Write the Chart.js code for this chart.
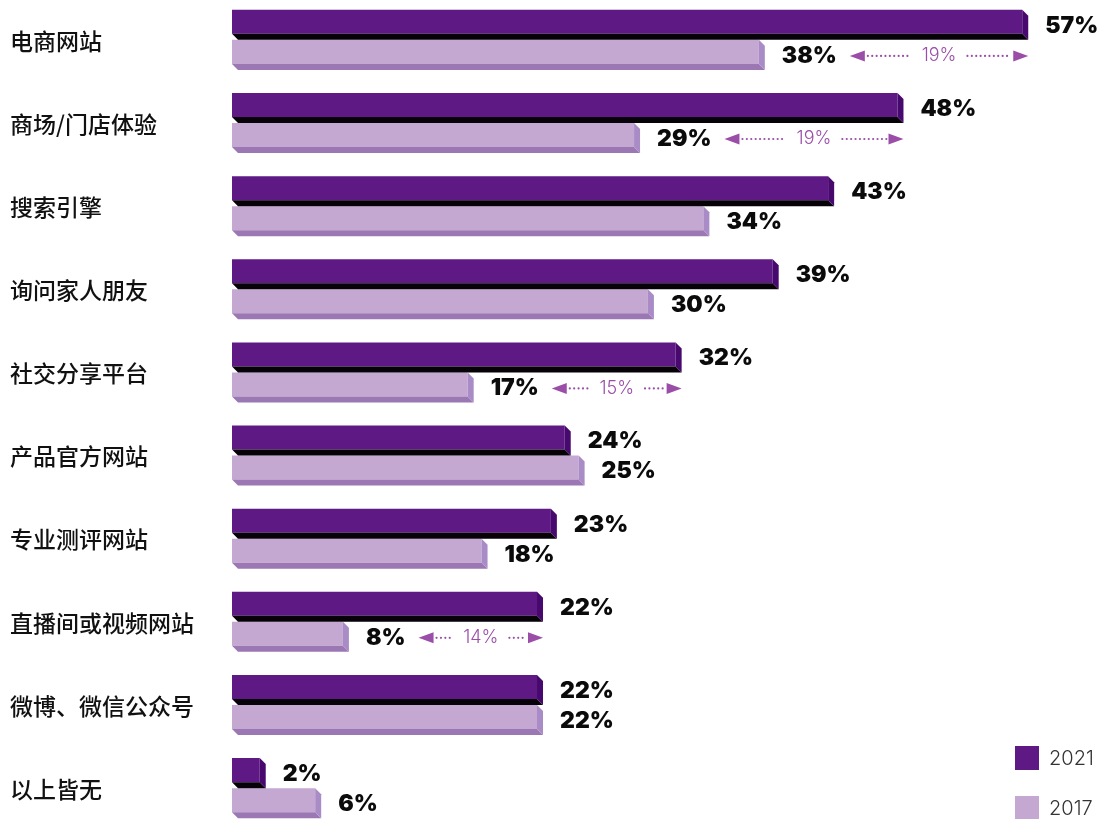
<!DOCTYPE html>
<html lang="zh-CN">
<head>
<meta charset="utf-8">
<title>购物信息渠道 2021 / 2017</title>
<script src="https://cdn.jsdelivr.net/npm/chart.js@4.4.1/dist/chart.umd.min.js"></script>
<style>
  html, body { margin: 0; padding: 0; background: #fff; overflow: hidden; }
  #wrap { position: absolute; left: 0; top: -7px; width: 1098px; height: 836px; }
</style>
</head>
<body>
<div id="wrap"><canvas id="channelChart" width="1098" height="836"></canvas></div>
<script>
// Channels and share of respondents (%)
const categories = ['电商网站', '商场/门店体验', '搜索引擎', '询问家人朋友', '社交分享平台',
                    '产品官方网站', '专业测评网站', '直播间或视频网站', '微博、微信公众号', '以上皆无'];
const seriesNames = ['2021', '2017'];
const values2021 = [57, 48, 43, 39, 32, 24, 23, 22, 22, 2];
const values2017 = [38, 29, 34, 30, 17, 25, 18, 8, 22, 6];
// rows that get a "gap" arrow between the two years
const gapRows = [0, 1, 4, 7];

const faceColors = [
    { front: '#5e1985', side: '#48096f', bottom: '#060208' },
    { front: '#c4a8d2', side: '#a98cc6', bottom: '#9b77b3' }
];
const DEPTH = 6;
const ARROW_COLOR = '#9a4ea8';
const VALUE_FONT = '900 23px Inter, "Liberation Sans", sans-serif';

// draws the side and bottom faces so each bar looks like a block
const extrudePlugin = {
    id: 'extrude',
    afterDatasetsDraw(chart) {
        const ctx = chart.ctx;
        chart.data.datasets.forEach((ds, di) => {
            const faces = faceColors[di];
            chart.getDatasetMeta(di).data.forEach(bar => {
                const { x, y, base, height } = bar.getProps(['x', 'y', 'base', 'height'], true);
                const top = y - height / 2;
                const bottom = y + height / 2;
                const d = DEPTH;
                ctx.save();
                ctx.fillStyle = faces.bottom;
                ctx.beginPath();
                ctx.moveTo(base, bottom);
                ctx.lineTo(x, bottom);
                ctx.lineTo(x + d, bottom + d);
                ctx.lineTo(base + d, bottom + d);
                ctx.closePath();
                ctx.fill();
                ctx.fillStyle = faces.side;
                ctx.beginPath();
                ctx.moveTo(x, top);
                ctx.lineTo(x + d, top + d);
                ctx.lineTo(x + d, bottom + d);
                ctx.lineTo(x, bottom);
                ctx.closePath();
                ctx.fill();
                ctx.restore();
            });
        });
    }
};

function labelPos(bar) {
    const { x, y } = bar.getProps(['x', 'y'], true);
    return { x: x + DEPTH + 17, y: y + DEPTH / 2 + 1 };
}

const valueLabelPlugin = {
    id: 'valueLabels',
    afterDatasetsDraw(chart) {
        const ctx = chart.ctx;
        ctx.save();
        ctx.font = VALUE_FONT;
        ctx.fillStyle = '#0b0b0b';
        ctx.textAlign = 'left';
        ctx.textBaseline = 'middle';
        chart.data.datasets.forEach((ds, di) => {
            chart.getDatasetMeta(di).data.forEach((bar, i) => {
                const p = labelPos(bar);
                ctx.fillText(ds.data[i] + '%', p.x, p.y);
            });
        });
        ctx.restore();
    }
};

function drawDots(ctx, from, to, y) {
    for (let x = from; x <= to; x += 4.4) {
        ctx.beginPath();
        ctx.arc(x, y, 1.1, 0, Math.PI * 2);
        ctx.fill();
    }
}

const gapArrowPlugin = {
    id: 'gapArrows',
    afterDatasetsDraw(chart) {
        const ctx = chart.ctx;
        const top = chart.getDatasetMeta(0).data;
        const low = chart.getDatasetMeta(1).data;
        ctx.save();
        gapRows.forEach(row => {
            ctx.font = VALUE_FONT;
            const lp = labelPos(low[row]);
            const x0 = lp.x + ctx.measureText(values2017[row] + '%').width + 13;
            const x1 = top[row].getProps(['x'], true).x + DEPTH;
            const y = lp.y;
            const text = (values2021[row] - values2017[row]) + '%';

            ctx.fillStyle = ARROW_COLOR;
            ctx.beginPath();
            ctx.moveTo(x0, y);
            ctx.lineTo(x0 + 15, y - 5.5);
            ctx.lineTo(x0 + 15, y + 5.5);
            ctx.closePath();
            ctx.fill();
            ctx.beginPath();
            ctx.moveTo(x1, y);
            ctx.lineTo(x1 - 15, y - 5.5);
            ctx.lineTo(x1 - 15, y + 5.5);
            ctx.closePath();
            ctx.fill();

            ctx.font = '300 18px Inter, "Liberation Sans", sans-serif';
            const tw = ctx.measureText(text).width;
            const mid = (x0 + x1) / 2;
            ctx.textAlign = 'center';
            ctx.textBaseline = 'middle';
            ctx.fillText(text, mid, y);
            drawDots(ctx, x0 + 18, mid - tw / 2 - 11, y);
            drawDots(ctx, mid + tw / 2 + 11, x1 - 17, y);
        });
        ctx.restore();
    }
};

const legendPlugin = {
    id: 'cornerLegend',
    afterDraw(chart) {
        const ctx = chart.ctx;
        const lx = chart.width - 83;
        ctx.save();
        ctx.font = '300 20px Inter, "Liberation Sans", sans-serif';
        ctx.textAlign = 'left';
        ctx.textBaseline = 'middle';
        seriesNames.forEach((name, i) => {
            const ly = 753 + i * 50;
            ctx.fillStyle = faceColors[i].front;
            ctx.fillRect(lx, ly, 24, 24);
            ctx.fillStyle = '#333';
            ctx.fillText(name, lx + 34, ly + 13);
        });
        ctx.restore();
    }
};

new Chart(document.getElementById('channelChart'), {
    type: 'bar',
    data: {
        labels: categories,
        datasets: [
            { label: seriesNames[0], data: values2021, backgroundColor: faceColors[0].front },
            { label: seriesNames[1], data: values2017, backgroundColor: faceColors[1].front }
        ]
    },
    options: {
        indexAxis: 'y',
        responsive: false,
        animation: false,
        categoryPercentage: 0.722,
        barPercentage: 0.8,
        layout: { padding: { left: 10, right: 30, top: 0, bottom: 0 } },
        plugins: {
            legend: { display: false },
            tooltip: { enabled: false }
        },
        scales: {
            x: { display: false, min: 0, max: 60.3 },
            y: {
                grid: { display: false },
                border: { display: false },
                afterFit(scale) { scale.width = 222; },
                ticks: {
                    crossAlign: 'far',
                    padding: 0,
                    labelOffset: 4,
                    color: '#111',
                    // small lineHeight keeps the axis from padding the plot area
                    font: { family: '"Noto Sans CJK SC", sans-serif', size: 23, weight: 500, lineHeight: 0.2 }
                }
            }
        }
    },
    plugins: [extrudePlugin, valueLabelPlugin, gapArrowPlugin, legendPlugin]
});
</script>
</body>
</html>
